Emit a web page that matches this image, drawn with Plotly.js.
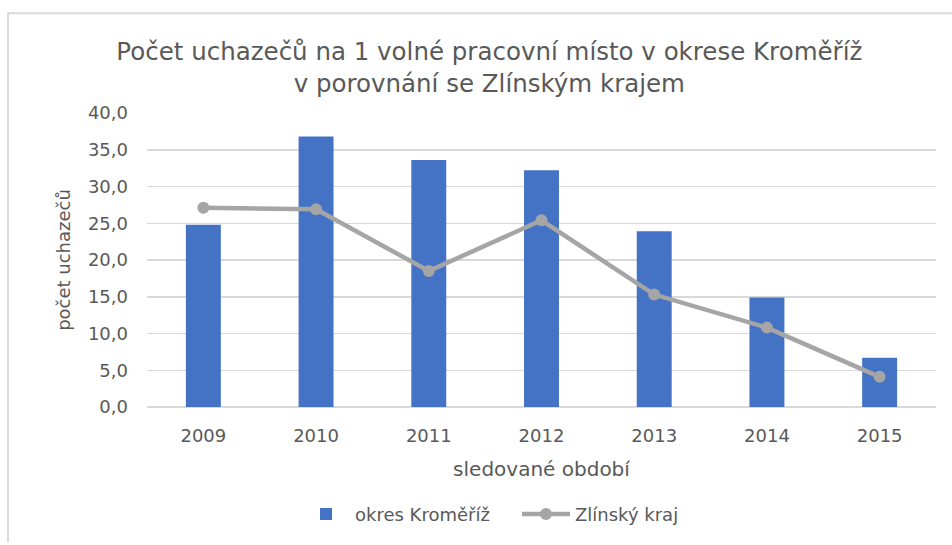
<!DOCTYPE html>
<html><head><meta charset="utf-8">
<script src="https://cdn.plot.ly/plotly-3.0.1.min.js"></script>
<style>html,body{margin:0;padding:0;background:#fff}#c{width:952px;height:545px}</style>
</head><body><div id="c"></div>
<script>
const years = ['2009','2010','2011','2012','2013','2014','2015'];
const kromeriz = [24.8, 36.8, 33.6, 32.2, 23.9, 14.9, 6.7];
const zlinsky = [27.1, 26.9, 18.5, 25.4, 15.3, 10.8, 4.1];
const yTicks = [0,5,10,15,20,25,30,35,40];

const font = '"DejaVu Sans", sans-serif';
const gray = '#595959';

const traces = [
  {type:'bar', x:years, y:kromeriz, name:'okres Kroměříž', marker:{color:'#4472C4'}, width:0.31},
  {type:'scatter', mode:'lines+markers', x:years, y:zlinsky, name:'Zlínský kraj',
   line:{color:'#A5A5A5', width:4.5}, marker:{color:'#A5A5A5', size:12}}
];

// plot area in px: x 147..936, y 113..409
const L = 147, R = 936, T = 113, B = 409;
const px = v => (v - L) / (R - L);
const py = v => (B - v) / (B - T);

const layout = {
  width:952, height:545,
  margin:{l:L, r:952-R, t:T, b:545-B},
  paper_bgcolor:'#fff', plot_bgcolor:'#fff',
  separators:', ',
  font:{family:font, color:gray, size:18},
  showlegend:true,
  title:{text:'Počet uchazečů na 1 volné pracovní místo v okrese Kroměříž<br>v porovnání se Zlínským krajem',
    font:{family:font, size:24.5, color:gray}, x:0.514, xanchor:'center', y:1-60/545, yanchor:'middle', yref:'container'},
  xaxis:{type:'category', showgrid:false, zeroline:false, showline:false, ticks:'',
    tickfont:{size:18, color:gray}, ticklabelstandoff:16,
    title:{text:'sledované období', font:{size:20, color:gray}, standoff:16}},
  yaxis:{range:[0,40], tickvals:yTicks, tickformat:'.1f', showgrid:true, gridcolor:'#D9D9D9', gridwidth:1.5,
    zeroline:true, zerolinecolor:'#D9D9D9', zerolinewidth:1.5, showline:false, ticks:'',
    tickfont:{size:18, color:gray}, ticklabelstandoff:18,
    title:{text:'počet uchazečů', font:{size:18, color:gray}, standoff:12}},
  legend:{orientation:'h', x:px(297), xanchor:'left', y:py(517), yanchor:'middle',
    font:{size:18, color:gray}, traceorder:'normal', itemwidth:48, entrywidth:157},
  shapes:[
    {type:'line', xref:'paper', yref:'paper', x0:px(7), x1:px(952), y0:py(12.5), y1:py(12.5), line:{color:'#D9D9D9', width:2}},
    {type:'line', xref:'paper', yref:'paper', x0:px(8), x1:px(8), y0:py(12.5), y1:py(545), line:{color:'#D9D9D9', width:2}}
  ]
};

Plotly.newPlot('c', traces, layout, {displayModeBar:false, staticPlot:true});
</script></body></html>
